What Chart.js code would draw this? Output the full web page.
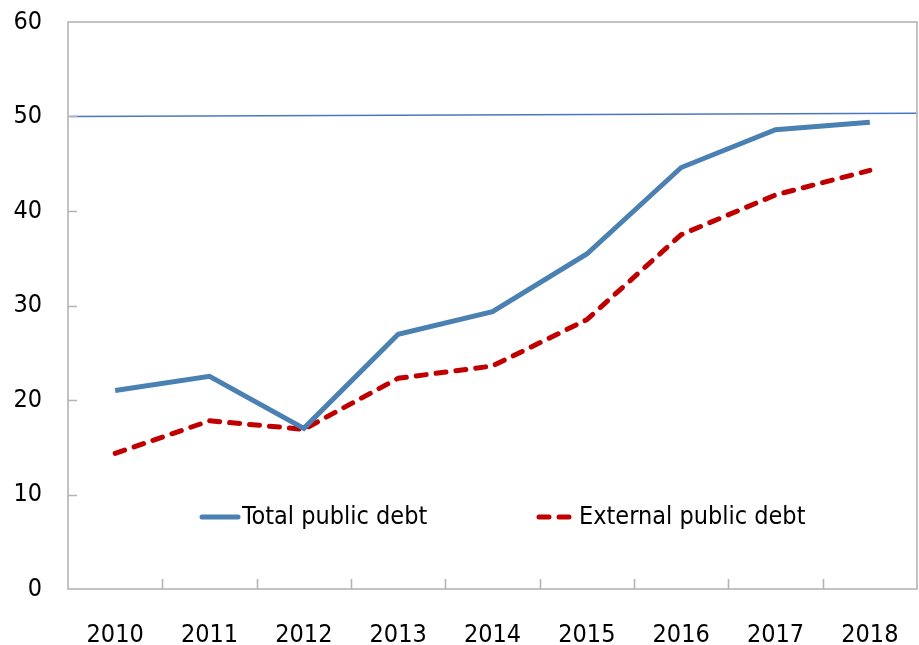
<!DOCTYPE html>
<html>
<head>
<meta charset="utf-8">
<script src="https://cdn.jsdelivr.net/npm/chart.js@4"></script>
<style>
    html, body { margin: 0; padding: 0; background: #fff; }
    #wrap { width: 919px; height: 645px; }
</style>
</head>
<body>
<div id="wrap"><canvas id="debt-chart" width="919" height="645"></canvas></div>
<script>
const years = ['2010', '2011', '2012', '2013', '2014', '2015', '2016', '2017', '2018'];
const totalDebt = [21.0, 22.5, 17.0, 26.95, 29.35, 35.45, 44.6, 48.6, 49.4];
const externalDebt = [14.35, 17.8, 16.9, 22.3, 23.6, 28.5, 37.5, 41.7, 44.3];
const yTicks = [0, 10, 20, 30, 40, 50, 60];
// reference line, value at the left and right edge of the plot
const thresholdLine = [50, 50.35];

const FONT = '"DejaVu Sans Condensed", "DejaVu Sans", sans-serif';
const FONT_SIZE = 25;
const AXIS_GREY = '#b4b4b4';
const BLUE = '#4b80b2';
const RED = '#c00000';

const frame = {
    id: 'frame',
    beforeDatasetsDraw(chart) {
        const { ctx, chartArea: a, scales } = chart;
        ctx.save();

        // threshold line
        ctx.strokeStyle = '#4a78c0';
        ctx.lineWidth = 1.4;
        ctx.beginPath();
        ctx.moveTo(a.left + 2, scales.y.getPixelForValue(thresholdLine[0]));
        ctx.lineTo(a.right, scales.y.getPixelForValue(thresholdLine[1]));
        ctx.stroke();

        ctx.strokeStyle = AXIS_GREY;
        ctx.lineWidth = 1.6;
        ctx.strokeRect(a.left, a.top, a.right - a.left, a.bottom - a.top);

        // inner ticks on the value axis
        ctx.beginPath();
        yTicks.slice(1, -1).forEach((v) => {
            const py = Math.round(scales.y.getPixelForValue(v)) + 0.5;
            ctx.moveTo(a.left, py);
            ctx.lineTo(a.left + 9, py);
        });
        // inner ticks between the years
        for (let i = 0; i < years.length - 1; i++) {
            const px = Math.round((scales.x.getPixelForValue(i) + scales.x.getPixelForValue(i + 1)) / 2) + 0.5;
            ctx.moveTo(px, a.bottom);
            ctx.lineTo(px, a.bottom - 10);
        }
        ctx.stroke();
        ctx.restore();
    },
    afterDatasetsDraw(chart) {
        const { ctx } = chart;
        const items = [
            { x: 200, label: 'Total public debt', color: BLUE, dash: [] },
            { x: 537, label: 'External public debt', color: RED, dash: [10, 10] },
        ];
        const y = 517;
        ctx.save();
        items.forEach((it) => {
            ctx.strokeStyle = it.color;
            ctx.lineWidth = 5;
            ctx.lineCap = 'round';
            ctx.setLineDash(it.dash);
            ctx.beginPath();
            ctx.moveTo(it.x + 2, y);
            ctx.lineTo(it.x + 38, y);
            ctx.stroke();
            ctx.setLineDash([]);
            ctx.fillStyle = '#000';
            ctx.font = `${FONT_SIZE}px ${FONT}`;
            ctx.textBaseline = 'middle';
            ctx.fillText(it.label, it.x + 42, y);
        });
        ctx.restore();
    },
};

new Chart(document.getElementById('debt-chart'), {
    type: 'line',
    data: {
        labels: years,
        datasets: [
            {
                label: 'Total public debt',
                data: totalDebt,
                borderColor: BLUE,
                borderWidth: 5,
                pointRadius: 0,
                tension: 0,
            },
            {
                label: 'External public debt',
                data: externalDebt,
                borderColor: RED,
                borderWidth: 5,
                borderDash: [10, 10],
                borderCapStyle: 'round',
                pointRadius: 0,
                tension: 0,
            },
        ],
    },
    options: {
        responsive: false,
        animation: false,
        layout: { padding: { top: 22, right: 2, left: 0, bottom: 0 } },
        plugins: {
            legend: { display: false },
            tooltip: { enabled: false },
        },
        scales: {
            x: {
                offset: true,
                grid: { display: false },
                border: { display: false },
                afterFit: (s) => {
                    s.height = 56;
                    s.paddingLeft = 0;
                    s.paddingRight = 0;
                },
                ticks: {
                    color: '#000',
                    font: { family: FONT, size: FONT_SIZE },
                    padding: 23,
                    maxRotation: 0,
                },
            },
            y: {
                min: 0,
                max: 60,
                grid: { display: false },
                border: { display: false },
                afterFit: (s) => {
                    s.width = 68;
                    s.paddingTop = 0;
                    s.paddingBottom = 0;
                },
                afterBuildTicks: (s) => { s.ticks = yTicks.map((v) => ({ value: v })); },
                ticks: {
                    color: '#000',
                    font: { family: FONT, size: FONT_SIZE },
                    padding: 18,
                },
            },
        },
    },
    plugins: [frame],
});
</script>
</body>
</html>
